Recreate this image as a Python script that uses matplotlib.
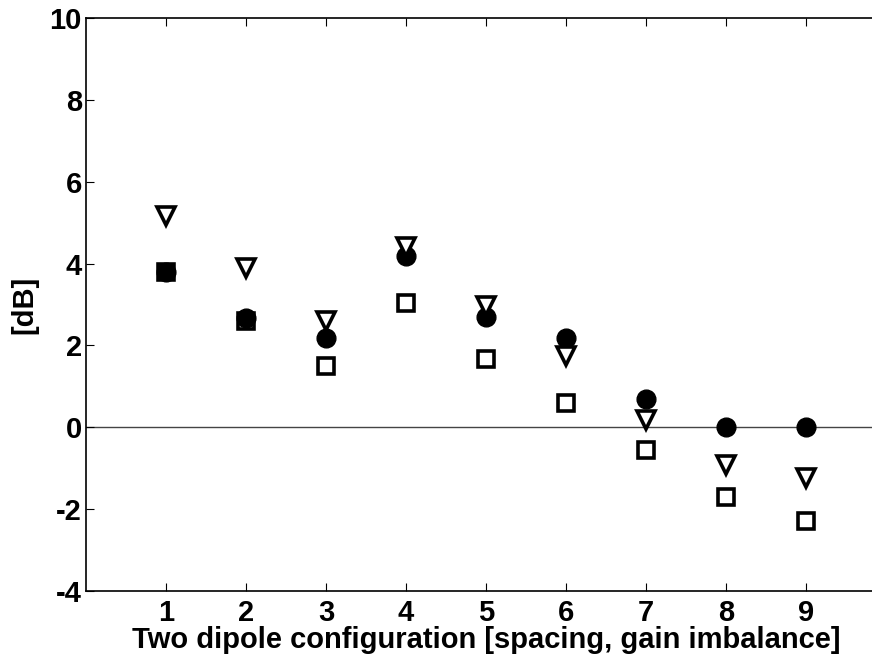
#!/usr/bin/env python3
"""Two dipole configuration: gain in dB for three cases (MATLAB-style scatter)."""
import matplotlib
matplotlib.use("Agg")
import matplotlib.pyplot as plt

CONFIGS = [1, 2, 3, 4, 5, 6, 7, 8, 9]
CIRCLES = [3.80, 2.68, 2.19, 4.18, 2.70, 2.19, 0.70, 0.00, 0.00]
TRIANGLES = [5.17, 3.90, 2.60, 4.40, 2.97, 1.75, 0.17, -0.93, -1.25]
SQUARES = [3.80, 2.60, 1.49, 3.04, 1.66, 0.60, -0.56, -1.70, -2.28]

YTICKS = [-4, -2, 0, 2, 4, 6, 8, 10]


def main() -> None:
    plt.rcParams["font.family"] = ["Liberation Sans", "DejaVu Sans"]
    plt.rcParams["font.weight"] = "bold"
    plt.rcParams["axes.unicode_minus"] = False

    fig = plt.figure(figsize=(8.72, 6.63), dpi=100)
    # axes runs slightly past the right edge, like the cropped original
    ax = fig.add_axes([86 / 872, 1 - 591 / 663, 800 / 872, 573 / 663])

    ax.axhline(0, color="#444444", linewidth=1.0, zorder=1)

    # draw order as in the original: squares, then circles, triangles on top
    ax.plot(CONFIGS, SQUARES, linestyle="none", marker="s", markersize=11,
            markerfacecolor="white", markeredgecolor="black", markeredgewidth=2.6,
            zorder=2)
    ax.plot(CONFIGS, CIRCLES, linestyle="none", marker="o", markersize=13.5,
            color="black", zorder=3)
    ax.plot(CONFIGS, TRIANGLES, linestyle="none", marker="v", markersize=13,
            markerfacecolor="white", markeredgecolor="black", markeredgewidth=2.6,
            zorder=4)

    ax.set_xlim(0, 10)
    ax.set_ylim(-4, 10)
    ax.set_xticks(CONFIGS)
    ax.set_yticks(YTICKS)

    ax.tick_params(axis="both", direction="in", length=5.5, width=0.8,
                   labelsize=21, top=True, right=True)
    ax.tick_params(axis="x", pad=6)
    ax.tick_params(axis="y", pad=3)
    for s in ax.spines.values():
        s.set_linewidth(1.2)

    ax.set_xlabel("Two dipole configuration [spacing, gain imbalance]",
                  fontsize=21, fontweight="bold", labelpad=-1)
    ax.set_ylabel("[dB]", fontsize=21, fontweight="bold", labelpad=8)

    fig.savefig("out.png", dpi=100)
    plt.close(fig)


if __name__ == "__main__":
    main()
